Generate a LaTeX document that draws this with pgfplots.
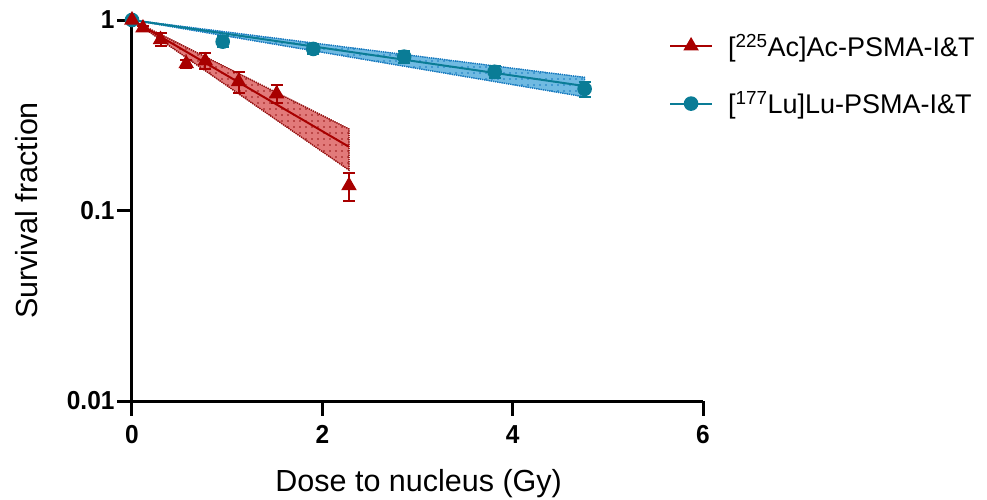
\documentclass[border=0pt]{standalone}
\usepackage{fontspec}
\setmainfont{Liberation Sans}
\newfontfamily\narrowbold[FakeStretch=0.94]{Liberation Sans Bold}
\usepackage{pgfplots}
\pgfplotsset{compat=1.18}
\usetikzlibrary{patterns.meta}

\definecolor{acline}{RGB}{168,0,0}
\definecolor{acfill}{RGB}{226,122,122}
\definecolor{acdot}{RGB}{150,20,20}
\definecolor{luline}{RGB}{10,124,150}
\definecolor{lufill}{RGB}{112,186,226}
\definecolor{ludot}{RGB}{20,120,190}

\tikzdeclarepattern{
  name=sparsedots,
  type=uncolored,
  bounding box={(-3pt,-3pt) and (3pt,3pt)},
  tile size={(6pt,6pt)},
  code={\fill (0pt,0pt) circle (0.8pt);}
}

\begin{document}
\begin{tikzpicture}
\path[use as bounding box] (-132pt,-98pt) rectangle (855pt,401pt);
\begin{axis}[
  at={(0pt,0pt)}, anchor=south west,
  scale only axis, width=571pt, height=381pt,
  ymode=log,
  xmin=0, xmax=6, ymin=0.01, ymax=1,
  xtick={0,2,4,6},
  ytick={0.01,0.1,1}, yticklabels={0.01,0.1,1},
  yminorticks=false,
  axis lines=left,
  axis line style={-, line width=3pt},
  tick align=outside,
  major tick length=15pt,
  tick style={line width=3pt, black},
  /pgf/number format/assume math mode=true,
  ticklabel style={font=\narrowbold\fontsize{26}{30}\selectfont},
  xticklabel style={yshift=-6pt},
  yticklabel style={xshift=1pt},
  label style={font=\fontsize{30.5}{36}\selectfont},
  xlabel={Dose to nucleus (Gy)},
  ylabel={Survival fraction},
  xlabel style={at={(axis description cs:0.502,-0.218)}, anchor=center},
  ylabel style={at={(axis description cs:-0.184,0.5)}, anchor=center},
  clip=false,
  reverse legend,
  legend image code/.code={
    \draw[#1, sharp plot, mark repeat=2, mark phase=2] plot coordinates {(0pt,0pt) (21pt,0pt) (42pt,0pt)};
  },
  legend style={
    at={(axis description cs:0.935,0.974)}, anchor=north west,
    draw=none, fill=none,
    font=\fontsize{27}{31}\selectfont,
    row sep=30pt,
    cells={anchor=west},
    /tikz/every odd column/.append style={column sep=13pt},
  },
]
% confidence bands
\addplot[forget plot, fill=lufill, draw=ludot, densely dotted, line width=1.2pt,
  postaction={pattern=sparsedots, pattern color=ludot}]
  coordinates {(0,1) (4.756,0.50) (4.756,0.395) (0,1)};
\addplot[forget plot, fill=acfill, draw=acdot, densely dotted, line width=1.2pt,
  postaction={pattern=sparsedots, pattern color=acdot}]
  coordinates {(0,1) (2.28,0.268) (2.28,0.163) (0,1)};
% fitted lines
\addplot[forget plot, luline, line width=2pt] coordinates {(0,1) (4.756,0.45)};
\addplot[forget plot, acline, line width=2pt] coordinates {(0,1) (2.28,0.216)};
% measured points
\addplot[luline, line width=2pt, only marks, mark=*, mark size=6.3pt,
  error bars/.cd, y dir=both, y explicit,
  error bar style={line width=2pt, luline},
  error mark options={rotate=90, mark size=6pt, line width=2pt, luline}]
  coordinates {
    (0,1) +- (0,0)
    (0.953,0.77) +- (0,0.05)
    (1.905,0.705) +- (0,0.045)
    (2.86,0.642) +- (0,0.045)
    (3.81,0.535) +- (0,0.04)
    (4.756,0.435) +- (0,0.04)
  };
\addlegendentry{[\textsuperscript{177}Lu]Lu-PSMA-I\&T}
\addplot[acline, line width=2pt, only marks, mark=triangle*, mark size=7pt,
  error bars/.cd, y dir=both, y explicit,
  error bar style={line width=2pt, acline},
  error mark options={rotate=90, mark size=6pt, line width=2pt, acline}]
  coordinates {
    (0,1) +- (0,0)
    (0.115,0.908) +- (0,0.02)
    (0.30,0.79) +- (0,0.06)
    (0.57,0.59) +- (0,0.03)
    (0.77,0.61) +- (0,0.06)
    (1.12,0.475) +- (0,0.06)
    (1.52,0.41) +- (0,0.045)
    (2.28,0.135) +- (0,0.023)
  };
\addlegendentry{[\textsuperscript{225}Ac]Ac-PSMA-I\&T}
\end{axis}
\end{tikzpicture}
\end{document}
